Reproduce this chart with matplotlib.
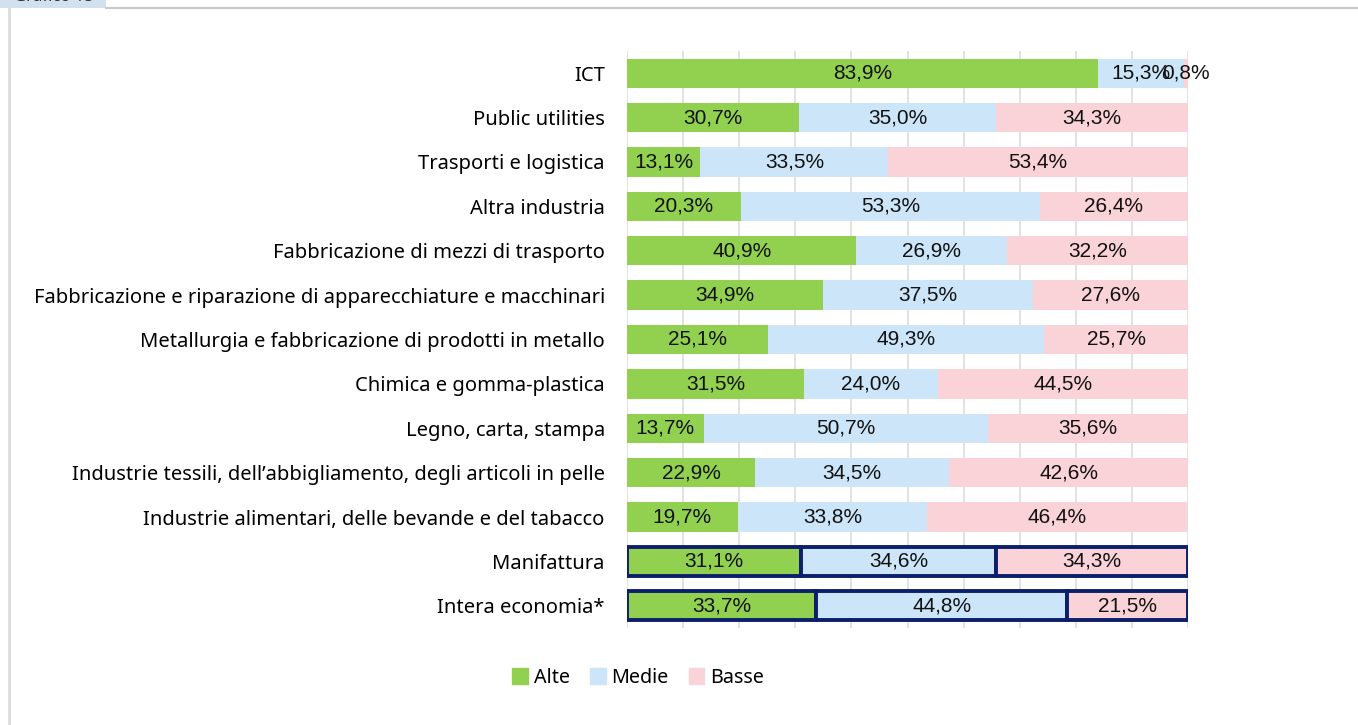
import matplotlib.pyplot as plt
import numpy as np
from matplotlib.patches import Rectangle
from matplotlib.lines import Line2D

categories = [
    "ICT",
    "Public utilities",
    "Trasporti e logistica",
    "Altra industria",
    "Fabbricazione di mezzi di trasporto",
    "Fabbricazione e riparazione di apparecchiature e macchinari",
    "Metallurgia e fabbricazione di prodotti in metallo",
    "Chimica e gomma-plastica",
    "Legno, carta, stampa",
    "Industrie tessili, dell\u2019abbigliamento, degli articoli in pelle",
    "Industrie alimentari, delle bevande e del tabacco",
    "Manifattura",
    "Intera economia*",
]
alte = [83.9, 30.7, 13.1, 20.3, 40.9, 34.9, 25.1, 31.5, 13.7, 22.9, 19.7, 31.1, 33.7]
medie = [15.3, 35.0, 33.5, 53.3, 26.9, 37.5, 49.3, 24.0, 50.7, 34.5, 33.8, 34.6, 44.8]
basse = [0.8, 34.3, 53.4, 26.4, 32.2, 27.6, 25.7, 44.5, 35.6, 42.6, 46.4, 34.3, 21.5]
series_names = ["Alte", "Medie", "Basse"]
highlighted = ["Manifattura", "Intera economia*"]

colors = ["#92D050", "#CCE5F8", "#F9D3D8"]
outline = "#0B1F6B"

fig = plt.figure(figsize=(13.58, 7.25), dpi=100)
ax = fig.add_axes([627 / 1358, 1 - 628 / 725, 561 / 1358, (628 - 51) / 725])

y = np.arange(len(categories))
left = np.zeros(len(categories))
for name, vals, col in zip(series_names, [alte, medie, basse], colors):
    vals = np.array(vals)
    edge = [outline if c in highlighted else "none" for c in categories]
    lw = [2.8 if c in highlighted else 0 for c in categories]
    bars = ax.barh(y, vals, left=left, height=0.66, color=col, edgecolor=edge,
                   linewidth=lw, label=name, zorder=2)
    for b, v in zip(bars, vals):
        ax.text(b.get_x() + b.get_width() / 2, b.get_y() + b.get_height() / 2,
                f"{v:.1f}%".replace(".", ","), ha="center", va="center",
                fontsize=15, family="Liberation Sans", color="#111111", zorder=3)
    left += vals

ax.set_xlim(0, 100)
ax.set_ylim(len(categories) - 0.5, -0.5)
ax.set_xticks(np.arange(0, 101, 10))
ax.set_xticklabels([])
ax.tick_params(axis="x", length=0)
ax.grid(axis="x", color="#DDDDDD", linewidth=1.2, zorder=0)
ax.set_axisbelow(True)
ax.set_yticks(y)
ax.set_yticklabels(categories, fontsize=14.5, family="Noto Sans")
ax.tick_params(axis="y", length=0, pad=16)
for s in ax.spines.values():
    s.set_visible(False)

handles = [Rectangle((0, 0), 1, 1, color=c) for c in colors]
fig.legend(handles, series_names, loc="center", bbox_to_anchor=(0.47, 0.065),
           ncol=3, frameon=False, prop={"family": "Noto Sans", "size": 14.2},
           handlelength=0.8, handleheight=0.8, handletextpad=0.3, columnspacing=1.0)

# frame and tab at the top-left
fig.add_artist(Rectangle((0, 1 - 8 / 725), 106 / 1358, 8 / 725, transform=fig.transFigure,
                         facecolor="#D3E1EF", edgecolor="none"))
fig.text(14 / 1358, 1 + 3 / 725, "Grafico 15", fontsize=12, va="center", ha="left",
         color="#333333", family="Noto Sans")
fig.add_artist(Line2D([106 / 1358, 1], [1 - 8 / 725] * 2, transform=fig.transFigure,
                      color="#C8C8C8", linewidth=1.5))
fig.add_artist(Line2D([8.5 / 1358] * 2, [0, 1 - 8 / 725], transform=fig.transFigure,
                      color="#DCDCDC", linewidth=2))

fig.savefig("out.png", dpi=100)
